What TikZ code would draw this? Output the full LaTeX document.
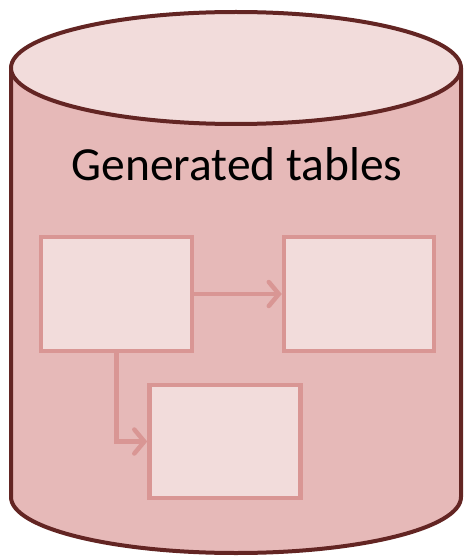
\documentclass[tikz,border=0pt]{standalone}
\usepackage{fontspec}
\setmainfont{Carlito}
\usepackage{tikz}
\usetikzlibrary{arrows.meta}

\definecolor{dbrown}{RGB}{99,37,35}
\definecolor{sidefill}{RGB}{230,185,184}
\definecolor{topfill}{RGB}{242,220,219}
\definecolor{boxline}{RGB}{217,150,148}

\begin{document}
\begin{tikzpicture}[x=1pt, y=-1pt,
  tablebox/.style={rectangle, draw=boxline, line width=4.5pt, fill=topfill, inner sep=0pt, minimum width=151pt, minimum height=114pt},
  link/.style={draw=boxline, line width=4.5pt, line cap=round, -{Straight Barb[length=10pt, width=24pt, line cap=round]}}]
\useasboundingbox (0,0) rectangle (465,556);
% cylinder
\draw[line width=4pt, draw=dbrown, fill=sidefill] (11,68) -- (11,497) arc[start angle=180, end angle=360, x radius=225, y radius=-56] -- (461,68);
\draw[line width=4pt, draw=dbrown, fill=topfill] (236,68) ellipse[x radius=225, y radius=56];
\node[font=\fontsize{47.5}{51}\selectfont, inner sep=0pt, anchor=base] (title) at (237,180) {Generated tables};

% tables
\node[tablebox] (src) at (116.5,294) {};
\node[tablebox, minimum width=150pt] (right) at (359,294) {};
\node[tablebox, minimum height=113pt] (below) at (225,441.5) {};
\draw[link] (src.east) -- (right.west);
\draw[link] (src.south) |- (below.west);
\end{tikzpicture}
\end{document}
